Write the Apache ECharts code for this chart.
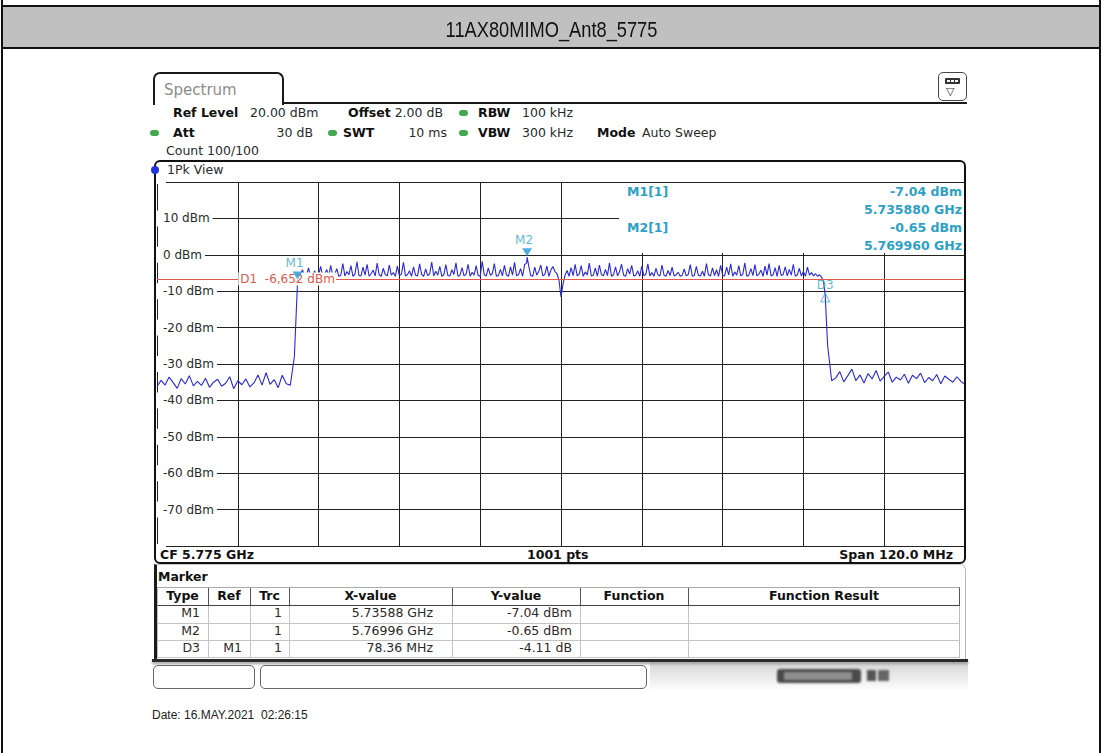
<!DOCTYPE html>
<html><head><meta charset="utf-8"><title>11AX80MIMO_Ant8_5775</title>
<script src="https://cdn.jsdelivr.net/npm/echarts@6.0.0/dist/echarts.min.js"></script>
<style>
html,body{margin:0;padding:0;background:#fff}
body{position:relative;width:1103px;height:753px;overflow:hidden;font-family:"DejaVu Sans",sans-serif}
.a{position:absolute;box-sizing:border-box}
.t{position:absolute;white-space:pre;font-size:12.5px;line-height:14px;height:14px;color:#2a2a2a}
.b{font-weight:bold;color:#111}
.r{text-align:right}
.c{text-align:center}
.dot{position:absolute;width:9px;height:6px;border-radius:3px;background:#43a84e}
.mk{color:#2e9fc6;font-weight:bold;z-index:2}
#chart{position:absolute;left:0;top:0;width:1103px;height:753px;z-index:1}
</style></head><body>
<!-- page frame -->
<div class="a" style="left:1px;top:0;width:2px;height:753px;background:#111"></div>
<div class="a" style="left:1099px;top:0;width:2px;height:753px;background:#111"></div>
<div class="a" style="left:1px;top:5px;width:1100px;height:2px;background:#111"></div>
<div class="a" style="left:3px;top:7px;width:1096px;height:40px;background:#c0c0c0"></div>
<div class="a" style="left:1px;top:47px;width:1100px;height:2px;background:#111"></div>
<div class="a" style="left:0;top:17px;width:1103px;text-align:center;font-family:'Liberation Sans',Arial,sans-serif;font-size:22px;line-height:26px;color:#111;transform:scaleX(0.83)">11AX80MIMO_Ant8_5775</div>

<!-- spectrum tab -->
<div class="a" style="left:153px;top:72px;width:131px;height:33px;border:2px solid #1a1a1a;border-bottom:none;border-radius:7px 7px 0 0;background:#fff"></div>
<div class="t" style="left:164px;top:81px;font-size:15px;line-height:18px;height:18px;color:#8c8c8c">Spectrum</div>
<div class="a" style="left:282px;top:102px;width:685px;height:2px;background:#1a1a1a"></div>
<div class="a" style="left:938px;top:72px;width:29px;height:29px;border:1.5px solid #444;border-radius:5px;background:#fff"></div>
<div class="a" style="left:945px;top:78px;width:15px;height:6px;background:#333;border-radius:1px"></div>
<div class="a" style="left:947px;top:80px;width:3px;height:2px;background:#fff"></div>
<div class="a" style="left:951px;top:80px;width:3px;height:2px;background:#fff"></div>
<div class="a" style="left:955px;top:80px;width:3px;height:2px;background:#fff"></div>
<div class="t" style="left:946px;top:85px;font-size:11px;color:#333">▽</div>

<!-- settings rows -->
<div class="t b" style="left:173px;top:106px">Ref Level</div>
<div class="t" style="left:250px;top:106px">20.00 dBm</div>
<div class="t b" style="left:348px;top:106px">Offset</div>
<div class="t r" style="left:363px;top:106px;width:80px">2.00 dB</div>
<div class="dot" style="left:459px;top:110px"></div>
<div class="t b" style="left:478px;top:106px">RBW</div>
<div class="t" style="left:522px;top:106px">100 kHz</div>

<div class="dot" style="left:150px;top:130px"></div>
<div class="t b" style="left:173px;top:126px">Att</div>
<div class="t r" style="left:233px;top:126px;width:80px">30 dB</div>
<div class="dot" style="left:328px;top:130px"></div>
<div class="t b" style="left:343px;top:126px">SWT</div>
<div class="t r" style="left:367px;top:126px;width:80px">10 ms</div>
<div class="dot" style="left:459px;top:130px"></div>
<div class="t b" style="left:478px;top:126px">VBW</div>
<div class="t" style="left:522px;top:126px">300 kHz</div>
<div class="t b" style="left:597px;top:126px">Mode</div>
<div class="t" style="left:642px;top:126px">Auto Sweep</div>
<div class="t" style="left:166px;top:144px">Count 100/100</div>

<div id="chart"></div>

<!-- plot frame -->
<div class="a" style="left:154px;top:160px;width:812px;height:404px;border:2px solid #111;border-radius:6px;z-index:3"></div>
<div class="a" style="left:151px;top:166px;width:8px;height:8px;border-radius:50%;background:#2233dd;z-index:4"></div>
<div class="t" style="left:167px;top:163px;z-index:2">1Pk View</div>

<!-- marker info -->
<div class="a" style="left:619px;top:183px;width:345px;height:70px;background:#fff;z-index:2"></div>
<div class="t mk" style="left:627px;top:185px">M1[1]</div>
<div class="t mk r" style="left:782px;top:185px;width:180px">-7.04 dBm</div>
<div class="t mk r" style="left:782px;top:203px;width:180px">5.735880 GHz</div>
<div class="t mk" style="left:627px;top:221px">M2[1]</div>
<div class="t mk r" style="left:782px;top:221px;width:180px">-0.65 dBm</div>
<div class="t mk r" style="left:782px;top:239px;width:180px">5.769960 GHz</div>

<!-- bottom row of plot -->
<div class="t b" style="left:160px;top:548px;z-index:2">CF 5.775 GHz</div>
<div class="t b" style="left:527px;top:548px;z-index:2">1001 pts</div>
<div class="t b r" style="left:793px;top:548px;width:160px;z-index:2">Span 120.0 MHz</div>

<!-- marker table -->
<div class="a" style="left:154px;top:564px;width:812px;height:97px;border-left:3px solid #1a1a1a;border-right:1px solid #b8b8b8;border-top:1px solid #c8c8c8;border-radius:0 6px 0 0"></div>
<div class="t b" style="left:158px;top:570px">Marker</div>
<div class="a" style="left:157px;top:587px;width:803px;height:19px;border-top:1px solid #aaa;border-bottom:1px solid #444;border-right:1px solid #555;border-left:1px solid #bbb"></div>
<div class="a" style="left:157px;top:606px;width:803px;height:52px;border-left:1px solid #bbb;border-right:1px solid #bbb;border-bottom:1px solid #c4c4c4"></div>
<div class="a" style="left:157px;top:623px;width:803px;height:1px;background:#c4c4c4"></div>
<div class="a" style="left:157px;top:640px;width:803px;height:1px;background:#c4c4c4"></div>
<div class="a" style="left:208px;top:588px;width:1px;height:17px;background:#555"></div>
<div class="a" style="left:250px;top:588px;width:1px;height:17px;background:#555"></div>
<div class="a" style="left:289px;top:588px;width:1px;height:17px;background:#555"></div>
<div class="a" style="left:452px;top:588px;width:1px;height:17px;background:#555"></div>
<div class="a" style="left:580px;top:588px;width:1px;height:17px;background:#555"></div>
<div class="a" style="left:688px;top:588px;width:1px;height:17px;background:#555"></div>
<div class="a" style="left:208px;top:606px;width:1px;height:52px;background:#c4c4c4"></div>
<div class="a" style="left:250px;top:606px;width:1px;height:52px;background:#c4c4c4"></div>
<div class="a" style="left:289px;top:606px;width:1px;height:52px;background:#c4c4c4"></div>
<div class="a" style="left:452px;top:606px;width:1px;height:52px;background:#c4c4c4"></div>
<div class="a" style="left:580px;top:606px;width:1px;height:52px;background:#c4c4c4"></div>
<div class="a" style="left:688px;top:606px;width:1px;height:52px;background:#c4c4c4"></div>

<div class="t b c" style="left:157px;top:589px;width:51px">Type</div>
<div class="t b c" style="left:208px;top:589px;width:42px">Ref</div>
<div class="t b c" style="left:250px;top:589px;width:39px">Trc</div>
<div class="t b c" style="left:289px;top:589px;width:163px">X-value</div>
<div class="t b c" style="left:452px;top:589px;width:128px">Y-value</div>
<div class="t b c" style="left:580px;top:589px;width:108px">Function</div>
<div class="t b c" style="left:688px;top:589px;width:272px">Function Result</div>

<div class="t r" style="left:160px;top:606px;width:40px">M1</div>
<div class="t r" style="left:260px;top:606px;width:22px">1</div>
<div class="t r" style="left:293px;top:606px;width:140px">5.73588 GHz</div>
<div class="t r" style="left:460px;top:606px;width:112px">-7.04 dBm</div>
<div class="t r" style="left:160px;top:624px;width:40px">M2</div>
<div class="t r" style="left:260px;top:624px;width:22px">1</div>
<div class="t r" style="left:293px;top:624px;width:140px">5.76996 GHz</div>
<div class="t r" style="left:460px;top:624px;width:112px">-0.65 dBm</div>
<div class="t r" style="left:160px;top:641px;width:40px">D3</div>
<div class="t r" style="left:210px;top:641px;width:32px">M1</div>
<div class="t r" style="left:260px;top:641px;width:22px">1</div>
<div class="t r" style="left:293px;top:641px;width:140px">78.36 MHz</div>
<div class="t r" style="left:460px;top:641px;width:112px">-4.11 dB</div>

<!-- status bar -->
<div class="a" style="left:650px;top:661px;width:318px;height:30px;background:linear-gradient(to bottom,#d4d4d4,#fff)"></div>
<div class="a" style="left:152px;top:659px;width:816px;height:3px;background:#2a2a2a;box-shadow:0 2px 3px #999"></div>
<div class="a" style="left:153px;top:665px;width:102px;height:24px;border:1px solid #666;border-radius:5px;background:#fff"></div>
<div class="a" style="left:260px;top:665px;width:387px;height:24px;border:1px solid #666;border-radius:5px;background:#fff"></div>
<div class="a" style="left:777px;top:669px;width:84px;height:14px;background:#4a4a4a;border-radius:3px;filter:blur(1px)"></div>
<div class="a" style="left:784px;top:672px;width:68px;height:8px;background:#8e8e8e;filter:blur(1.2px)"></div>
<div class="a" style="left:867px;top:670px;width:9px;height:11px;background:#555;filter:blur(1.2px)"></div>
<div class="a" style="left:878px;top:670px;width:11px;height:11px;background:#666;filter:blur(1.2px)"></div>

<div class="t" style="left:152px;top:708px;font-family:'Liberation Sans',Arial,sans-serif;font-size:12px;color:#222">Date: 16.MAY.2021  02:26:15</div>

<script>
// ---- instrument settings ----
const FREQ_START_MHZ = 5715;
const FREQ_SPAN_MHZ = 120;
const FREQ_DIV_MHZ = 12;
const REF_LEVEL_DBM = 20;
const BOTTOM_LEVEL_DBM = -80;
const LEVEL_DIV_DB = 10;
const D1_LEVEL_DBM = -6.652;

// ---- trace levels (dBm) ----
// left noise floor: 5715.0 .. 5734.8 MHz, 0.6 MHz apart
const leftFloor = [
  -36.2, -34.5, -35.8, -33.6, -35.1, -36.7, -34.0, -35.5, -33.2, -36.0,
  -34.8, -35.9, -33.9, -36.4, -35.0, -34.2, -36.1, -35.3, -33.5, -36.8,
  -34.6, -35.7, -34.1, -36.3, -35.2, -33.0, -35.8, -32.4, -35.6, -34.3,
  -36.5, -33.1, -35.4, -35.8
];
// rising edge at 5735.4 MHz
const riseEdge = [-28.0];
// occupied band: 5736.0 .. 5813.7 MHz, 0.3 MHz apart
const inBand = [
  -6.4, -5.8, -4.1, -6.0, -5.7, -3.6, -5.9, -6.1, -4.4, -5.8,
  -5.6, -3.2, -5.9, -5.5, -4.0, -6.0, -2.9, -5.7, -5.4, -3.8,
  -5.9, -5.6, -2.4, -5.8, -4.6, -5.5, -3.0, -5.9, -5.3, -1.9,
  -5.7, -5.8, -3.4, -5.6, -2.6, -5.9, -5.2, -4.2, -5.8, -2.3,
  -5.5, -5.9, -3.7, -5.4, -5.8, -2.8, -5.6, -4.9, -5.9, -3.1,
  -5.7, -5.3, -2.1, -5.8, -5.5, -4.4, -5.9, -3.3, -5.6, -5.8,
  -2.5, -5.4, -5.9, -3.9, -5.7, -5.2, -2.0, -5.8, -4.5, -5.6,
  -3.2, -5.9, -5.5, -2.7, -5.7, -5.8, -4.1, -5.4, -2.2, -5.9,
  -5.6, -3.5, -5.8, -5.3, -2.6, -5.9, -4.8, -5.6, -3.0, -5.7,
  -5.9, -1.8, -5.5, -5.8, -3.6, -5.6, -5.2, -2.4, -5.9, -5.7,
  -4.0, -5.8, -2.9, -5.5, -5.9, -3.3, -5.6, -2.1, -5.8, -5.4,
  -3.8, -5.9, -2.7, -2.2, -3.0, -5.7, -5.9, -3.4, -5.6, -4.5,
  -2.8, -5.8, -5.4, -3.1, -5.9, -4.2, -3.2, -4.6, -5.2, -7.0,
  -11.6, -8.0, -5.6, -4.3, -5.9, -3.5, -5.7, -2.6, -5.8, -5.3,
  -3.0, -5.9, -4.7, -5.5, -2.3, -5.8, -5.6, -3.6, -5.9, -2.8,
  -5.4, -5.8, -4.0, -5.7, -2.2, -5.9, -5.5, -3.3, -5.8, -4.6,
  -2.6, -5.6, -5.9, -3.8, -5.3, -2.9, -5.8, -5.6, -4.4, -5.9,
  -3.1, -5.7, -5.4, -2.5, -5.8, -4.9, -5.9, -3.7, -5.5, -5.8,
  -2.8, -5.6, -5.9, -4.3, -5.7, -3.4, -5.8, -5.5, -4.8, -5.9,
  -5.6, -3.9, -5.8, -5.4, -2.7, -5.9, -5.7, -3.2, -5.6, -5.8,
  -4.5, -5.9, -2.4, -5.5, -5.8, -3.6, -5.7, -4.1, -5.9, -2.9,
  -5.6, -5.8, -3.4, -5.5, -2.5, -5.9, -4.7, -5.6, -3.0, -5.8,
  -5.4, -2.2, -5.9, -5.6, -3.8, -5.7, -2.7, -5.8, -5.3, -4.2,
  -5.9, -3.1, -5.6, -2.4, -5.8, -5.5, -3.5, -5.9, -2.9, -5.7,
  -5.4, -3.3, -5.8, -4.0, -5.6, -2.6, -5.9, -5.5, -3.7, -5.8,
  -4.6, -5.9, -3.4, -5.6, -4.9, -5.8, -5.2, -5.9, -5.5, -6.1
];
// falling edge: 5814.0 .. 5815.2 MHz, 0.6 MHz apart
const fallEdge = [-7.5, -25.0, -34.6];
// right noise floor: 5815.8 .. 5835.0 MHz, 0.6 MHz apart
const rightFloor = [
  -33.8, -32.1, -34.9, -33.2, -31.4, -34.6, -33.0, -35.2, -32.6, -34.1,
  -31.8, -34.7, -33.4, -32.2, -35.0, -33.6, -34.4, -32.8, -35.3, -33.1,
  -34.0, -32.5, -35.1, -33.7, -34.6, -32.9, -35.4, -33.3, -34.2, -35.0,
  -33.5, -34.8, -35.6
];
// segment start (MHz offset from start frequency) and sample spacing
const segments = [
  { levels: leftFloor,  startMHz: 0,     stepMHz: 0.6 },
  { levels: riseEdge,   startMHz: 20.4,  stepMHz: 0.6 },
  { levels: inBand,     startMHz: 21.0,  stepMHz: 0.3 },
  { levels: fallEdge,   startMHz: 99.0,  stepMHz: 0.6 },
  { levels: rightFloor, startMHz: 100.8, stepMHz: 0.6 }
];

// ---- marker table ----
const markerNames = ['M1', 'M2'];
const markerFreqGHz = [5.73588, 5.76996];
const markerLevelDbm = [-7.04, -0.65];
const deltaName = 'D3';
const deltaOffsetMHz = 78.36;   // relative to M1
const deltaOffsetDb = -4.11;

const trace = [];
segments.forEach(s => s.levels.forEach((v, i) => trace.push([+(s.startMHz + i * s.stepMHz).toFixed(2), v])));
const mPts = markerNames.map((n, k) => [+(markerFreqGHz[k] * 1000 - FREQ_START_MHZ).toFixed(2), markerLevelDbm[k]]);
const dPt = [+(mPts[0][0] + deltaOffsetMHz).toFixed(2), +(markerLevelDbm[0] + deltaOffsetDb).toFixed(2)];
mPts.forEach(p => trace.push(p));
trace.push(dPt);
trace.sort((a, b) => a[0] - b[0]);

const FONT = 'DejaVu Sans';
const MK_TEXT = '#3ba6c8';
const MK_FILL = '#1e9ad6';
const downTri = 'path://M0,0 L10,0 L5,8 Z';
const upTri = 'path://M5,0 L10,9 L0,9 Z';

const chart = echarts.init(document.getElementById('chart'), null, { renderer: 'svg' });
chart.setOption({
  animation: false,
  backgroundColor: 'transparent',
  grid: { left: 157, top: 182, width: 808, height: 364, show: false },
  xAxis: {
    type: 'value', min: 0, max: FREQ_SPAN_MHZ, interval: FREQ_DIV_MHZ,
    axisLine: { show: false }, axisTick: { show: false }, axisLabel: { show: false },
    splitLine: { show: true, lineStyle: { color: '#222', width: 1 } }
  },
  yAxis: [{
    type: 'value', min: BOTTOM_LEVEL_DBM, max: REF_LEVEL_DBM, interval: LEVEL_DIV_DB,
    axisLine: { show: false }, axisTick: { show: false }, axisLabel: { show: false },
    splitLine: { show: true, lineStyle: { color: '#222', width: 1 } }
  }, {
    type: 'value', min: BOTTOM_LEVEL_DBM, max: REF_LEVEL_DBM, interval: LEVEL_DIV_DB,
    position: 'left', z: 3,
    axisLine: { show: false }, axisTick: { show: false }, splitLine: { show: false },
    axisLabel: {
      inside: true, margin: 0, color: '#2a2a2a', fontSize: 12, fontFamily: FONT,
      backgroundColor: '#fff', padding: [2, 3, 2, 6],
      formatter: v => (v < REF_LEVEL_DBM && v > BOTTOM_LEVEL_DBM) ? v + ' dBm' : ''
    }
  }],
  series: [{
    type: 'line', yAxisIndex: 0, data: trace, showSymbol: false, symbol: 'none',
    lineStyle: { color: '#2a2ad2', width: 1.1 }, silent: true, z: 2,
    markLine: {
      silent: true, symbol: ['none', 'none'], z: 4,
      label: { show: false },
      lineStyle: { color: '#e0584f', type: 'solid', width: 1 },
      data: [{ yAxis: D1_LEVEL_DBM }]
    },
    markPoint: {
      silent: true, z: 6,
      data: [{
        coord: [FREQ_DIV_MHZ, D1_LEVEL_DBM], symbol: 'rect', symbolSize: 1,
        itemStyle: { color: 'transparent', borderWidth: 0 },
        label: {
          show: true, position: 'right', distance: 0, formatter: 'D1  -6,652 dBm',
          color: '#e0584f', fontSize: 12, fontFamily: FONT,
          backgroundColor: '#fff', padding: [1, 1, 0, 2]
        }
      }]
    }
  }, {
    type: 'scatter', yAxisIndex: 0, z: 12, silent: true,
    data: [
      ...markerNames.map((n, k) => ({
        value: mPts[k], symbol: downTri, symbolSize: [10, 8], symbolOffset: [0, -5],
        itemStyle: { color: MK_FILL, borderWidth: 0 },
        label: { show: true, formatter: n, position: 'top', distance: 2, offset: [-3, 0],
                 color: MK_TEXT, fontSize: 12, fontFamily: FONT }
      })),
      {
        value: dPt, symbol: upTri, symbolSize: [9, 9], symbolOffset: [0, 2],
        itemStyle: { color: 'rgba(255,255,255,0)', borderColor: MK_TEXT, borderWidth: 1 },
        label: { show: true, formatter: deltaName, position: 'top', distance: 1,
                 color: MK_TEXT, fontSize: 12, fontFamily: FONT }
      }
    ]
  }]
});
</script>
</body></html>
